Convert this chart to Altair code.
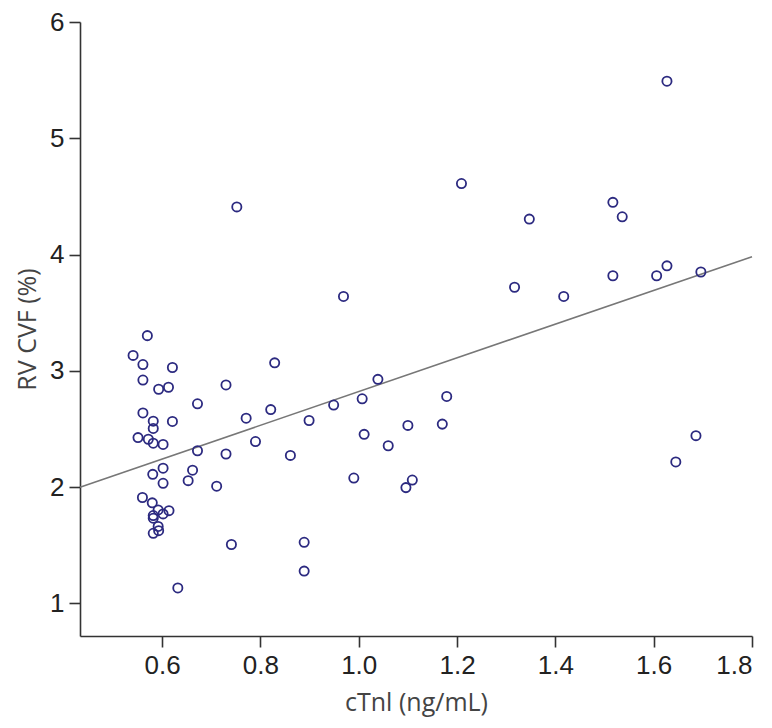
import altair as alt
import pandas as pd

ctni = [0.570, 0.541, 0.561, 0.621, 0.561, 0.593, 0.613, 0.730, 0.829, 0.672,
        0.561, 0.582, 0.582, 0.621, 0.771, 0.821, 0.551, 0.572, 0.582, 0.602,
        0.672, 0.730, 0.790, 0.861, 0.581, 0.602, 0.662, 0.602, 0.653, 0.711,
        0.560, 0.580, 0.592, 0.614, 0.602, 0.582, 0.582, 0.592, 0.593, 0.582,
        0.741, 0.632, 0.752, 1.627, 1.209, 1.347, 1.517, 1.536, 0.969, 1.317,
        1.417, 1.517, 1.606, 1.627, 1.696, 1.039, 0.949, 1.007, 0.899, 1.179,
        1.170, 1.100, 1.011, 1.060, 1.686, 1.645, 0.990, 1.109, 1.096, 0.889,
        0.889]
rvcvf = [3.303, 3.133, 3.054, 3.029, 2.921, 2.842, 2.859, 2.879, 3.069, 2.717,
         2.638, 2.567, 2.505, 2.565, 2.593, 2.667, 2.426, 2.412, 2.378, 2.367,
         2.313, 2.285, 2.392, 2.273, 2.110, 2.163, 2.146, 2.033, 2.056, 2.008,
         1.911, 1.865, 1.804, 1.798, 1.770, 1.756, 1.733, 1.662, 1.626, 1.603,
         1.507, 1.133, 4.410, 5.491, 4.611, 4.305, 4.449, 4.325, 3.640, 3.719,
         3.640, 3.818, 3.818, 3.903, 3.850, 2.927, 2.706, 2.760, 2.573, 2.780,
         2.542, 2.531, 2.454, 2.356, 2.443, 2.217, 2.078, 2.061, 1.996, 1.526,
         1.278]

fit_intercept = 1.372
fit_slope = 1.450
fit_x = [0.433, 1.8]

x_ticks = [0.6, 0.8, 1.0, 1.2, 1.4, 1.6, 1.8]
y_ticks = [1, 2, 3, 4, 5, 6]
x_domain = [0.433, 1.8]
y_domain = [0.72, 6]

pts = pd.DataFrame({"x": ctni, "y": rvcvf})
fit = pd.DataFrame({"x": fit_x, "y": [fit_intercept + fit_slope * v for v in fit_x]})

xs = alt.Scale(domain=x_domain, nice=False, zero=False)
ys = alt.Scale(domain=y_domain, nice=False, zero=False)

x_axis = alt.Axis(values=x_ticks, format=".1f", title="cTnl (ng/mL)", grid=False,
                  tickSize=11, labelPadding=5, titlePadding=12)
y_axis = alt.Axis(values=y_ticks, format="d", title="RV CVF (%)", grid=False,
                  tickSize=11, labelPadding=5, titlePadding=9)

points = alt.Chart(pts).mark_point(shape="circle", filled=False, size=85,
                                   strokeWidth=1.8, color="#2c2a80", opacity=1).encode(
    x=alt.X("x:Q", scale=xs, axis=x_axis),
    y=alt.Y("y:Q", scale=ys, axis=y_axis),
)

line = alt.Chart(fit).mark_line(color="#777777", strokeWidth=1.6).encode(
    x=alt.X("x:Q", scale=xs),
    y=alt.Y("y:Q", scale=ys),
)

chart = alt.layer(line, points).properties(
    width=672, height=614,
    autosize=alt.AutoSizeParams(type="none"),
    padding={"left": 72, "top": 14, "right": 10, "bottom": 90},
).configure_view(stroke=None).configure_axis(
    domainColor="#333333", domainWidth=1.6, tickColor="#333333", tickWidth=1.6,
    labelFont="Liberation Sans", labelFontSize=26, labelColor="#222222",
    titleFont="Open Sans", titleFontSize=25, titleFontWeight="normal", titleColor="#444444",
)

chart.save("out.html", embed_options={"renderer": "svg", "actions": False})
